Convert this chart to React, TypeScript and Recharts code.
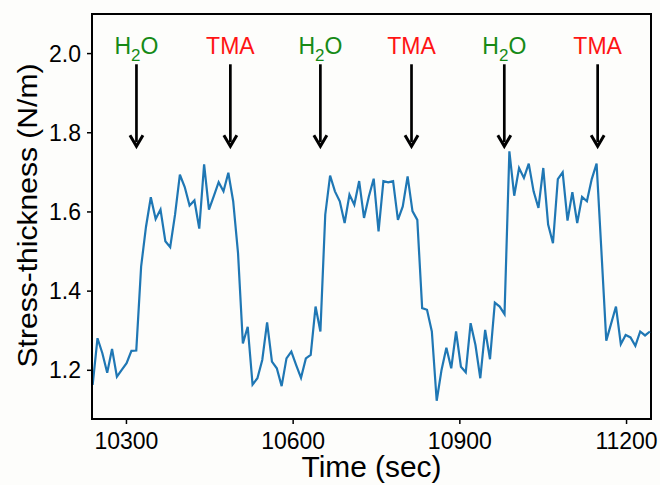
import { LineChart, Line, XAxis, YAxis, ReferenceLine, ReferenceDot, ReferenceArea } from 'recharts';

// sampling of the stress trace (seconds)
const startTime = 10239.2;
const sampleStep = 8.72;

const stress = [
  1.163, 1.281, 1.243, 1.194, 1.254, 1.184, 1.201, 1.218, 1.249, 1.25, 1.462, 1.562,
  1.637, 1.582, 1.606, 1.526, 1.511, 1.593, 1.694, 1.663, 1.616, 1.629, 1.558, 1.72,
  1.606, 1.64, 1.675, 1.652, 1.699, 1.627, 1.496, 1.268, 1.31, 1.164, 1.18, 1.226,
  1.321, 1.222, 1.205, 1.16, 1.23, 1.247, 1.213, 1.181, 1.23, 1.239, 1.361,
  1.298, 1.593, 1.692, 1.652, 1.627, 1.572, 1.644, 1.618, 1.678, 1.585, 1.639, 1.684,
  1.551, 1.678, 1.675, 1.678, 1.58, 1.614, 1.69, 1.602, 1.58, 1.357, 1.353, 1.298, 1.123,
  1.201, 1.257, 1.205, 1.298, 1.209, 1.195, 1.319, 1.264, 1.18, 1.302, 1.228, 1.371,
  1.361, 1.342, 1.753, 1.641, 1.711, 1.686, 1.722, 1.652, 1.61,
  1.711, 1.568, 1.521, 1.683, 1.7, 1.578, 1.65, 1.572, 1.638, 1.627, 1.683, 1.722,
  1.5, 1.275, 1.318, 1.361, 1.266, 1.289, 1.283, 1.262, 1.298, 1.288, 1.298,
];

const timeTicks = [10300, 10600, 10900, 11200];
const stressTicks = [1.2, 1.4, 1.6, 1.8, 2.0];

// precursor pulses
const pulseTimes = [10318, 10487, 10649, 10813, 10980, 11148];
const pulseGases = ['H2O', 'TMA', 'H2O', 'TMA', 'H2O', 'TMA'];

const xDomain = [10238, 11244];
const yDomain = [1.077, 2.1];
const arrowTop = 1.973;
const arrowTip = 1.766;
const labelLevel = 2.0;

const data = stress.map((v, i) => ({ t: startTime + i * sampleStep, v }));

const font = '"Liberation Sans", Arial, Helvetica, sans-serif';

function ArrowHead(props: any) {
  const { cx, cy } = props;
  return (
    <path
      d={`M${cx - 6.5},${cy - 11} L${cx},${cy} L${cx + 6.5},${cy - 11}`}
      fill="none"
      stroke="#000"
      strokeWidth={3}
    />
  );
}

function GasLabel(props: any) {
  const { cx, cy, gas } = props;
  if (gas === 'H2O') {
    return (
      <text x={cx} y={cy} textAnchor="middle" fontSize={23} fill="#168a16" fontFamily={font}>
        H
        <tspan fontSize={17} dy={7}>2</tspan>
        <tspan dy={-7}>O</tspan>
      </text>
    );
  }
  return (
    <text x={cx} y={cy} textAnchor="middle" fontSize={23} fill="#ff1414" fontFamily={font}>
      {gas}
    </text>
  );
}

function TimeTitle(props: any) {
  const { x, y, width, height } = props.viewBox;
  return (
    <text
      x={x + width / 2}
      y={y + height - 8}
      textAnchor="middle"
      fontSize={29}
      fill="#000"
      fontFamily={font}
      textLength={140}
      lengthAdjust="spacingAndGlyphs"
    >
      Time (sec)
    </text>
  );
}

function StressTitle(props: any) {
  const { x, y, height } = props.viewBox;
  const cx = x + 37;
  const cy = y + height / 2 - 1;
  return (
    <text
      x={cx}
      y={cy}
      transform={`rotate(-90, ${cx}, ${cy})`}
      textAnchor="middle"
      fontSize={28}
      fill="#000"
      fontFamily={font}
      textLength={304}
      lengthAdjust="spacingAndGlyphs"
    >
      Stress-thickness (N/m)
    </text>
  );
}

export default function App() {
  return (
    <div style={{ position: 'absolute', left: 0, top: 0, width: 660, height: 485, background: '#fdfdfb' }}>
      <LineChart width={660} height={485} data={data} margin={{ top: 14, right: 9, bottom: 0, left: 0 }}>
        <ReferenceArea
          x1={xDomain[0]}
          x2={xDomain[1]}
          y1={yDomain[0]}
          y2={yDomain[1]}
          fill="none"
          stroke="#000"
          strokeWidth={2}
          ifOverflow="visible"
        />
        <XAxis
          type="number"
          dataKey="t"
          domain={xDomain}
          ticks={timeTicks}
          allowDataOverflow
          height={66}
          tickSize={5}
          tickMargin={9}
          axisLine={{ stroke: '#000', strokeWidth: 2 }}
          tickLine={{ stroke: '#000', strokeWidth: 1.5 }}
          tick={{ fontSize: 23, fill: '#000', fontFamily: font }}
          label={{ content: (p: any) => <TimeTitle {...p} /> }}
        />
        <YAxis
          type="number"
          domain={yDomain}
          ticks={stressTicks}
          allowDataOverflow
          width={92}
          tickSize={5}
          tickMargin={6}
          tickFormatter={(v: number) => v.toFixed(1)}
          axisLine={{ stroke: '#000', strokeWidth: 2 }}
          tickLine={{ stroke: '#000', strokeWidth: 1.5 }}
          tick={{ fontSize: 23, fill: '#000', fontFamily: font }}
          label={{ content: (p: any) => <StressTitle {...p} /> }}
        />
        {pulseTimes.map((t, i) => (
          <ReferenceLine
            key={`shaft-${i}`}
            segment={[{ x: t, y: arrowTop }, { x: t, y: arrowTip + 0.01 }]}
            stroke="#000"
            strokeWidth={2.7}
          />
        ))}
        {pulseTimes.map((t, i) => (
          <ReferenceDot key={`head-${i}`} x={t} y={arrowTip} shape={(p: any) => <ArrowHead {...p} />} />
        ))}
        {pulseTimes.map((t, i) => (
          <ReferenceDot
            key={`gas-${i}`}
            x={t}
            y={labelLevel}
            shape={(p: any) => <GasLabel {...p} gas={pulseGases[i]} />}
          />
        ))}
        <Line
          type="linear"
          dataKey="v"
          stroke="#1f77b4"
          strokeWidth={2.2}
          dot={false}
          isAnimationActive={false}
        />
      </LineChart>
    </div>
  );
}
